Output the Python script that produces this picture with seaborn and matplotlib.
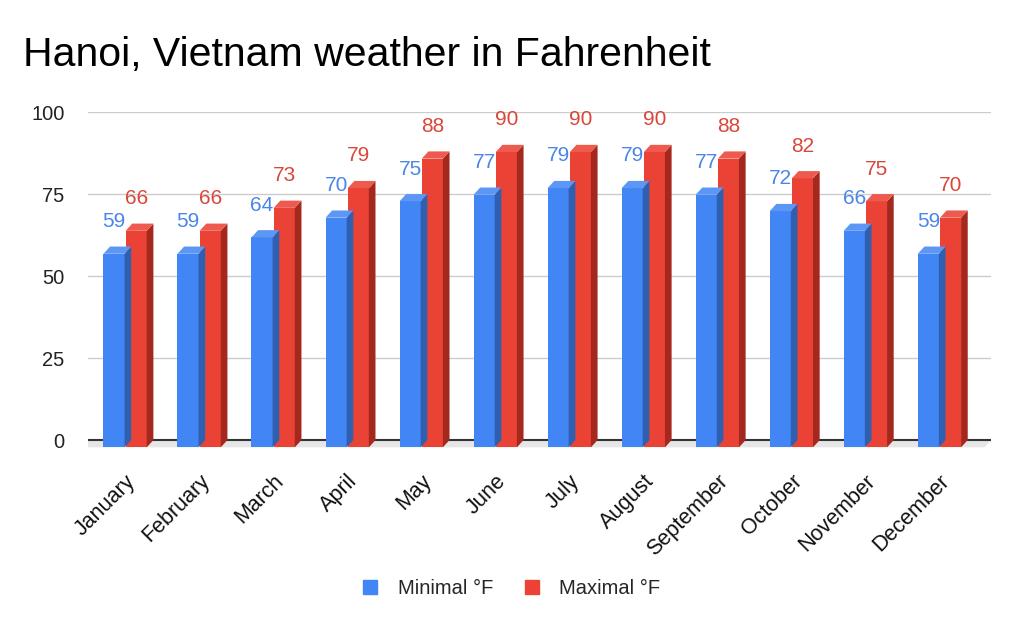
import matplotlib.pyplot as plt
import pandas as pd
import seaborn as sns
from matplotlib.patches import Polygon
from matplotlib.lines import Line2D

# Monthly temperatures in Hanoi (Fahrenheit)
months = ['January', 'February', 'March', 'April', 'May', 'June',
          'July', 'August', 'September', 'October', 'November', 'December']
min_f = [59, 59, 64, 70, 75, 77, 79, 79, 77, 72, 66, 59]
max_f = [66, 66, 73, 79, 88, 90, 90, 90, 88, 82, 75, 70]
series = ['Minimal °F', 'Maximal °F']
yticks = [0, 25, 50, 75, 100]

df = pd.DataFrame({'month': months * 2,
                   'value': min_f + max_f,
                   'series': [series[0]] * 12 + [series[1]] * 12})

blue, red = '#4285F4', '#EA4335'
side = {blue: '#2F5FB0', red: '#A5281E'}
top = {blue: '#5C97F6', red: '#EE5A4E'}
label_col = {blue: '#4A86E8', red: '#D9473A'}

sns.set_style('white')
plt.rcParams['font.family'] = ['Liberation Sans', 'DejaVu Sans']

fig = plt.figure(figsize=(10.24, 6.33), dpi=100)
ax = fig.add_axes([0.086, 0.284, 0.882, 0.539])

sns.barplot(data=df, x='month', y='value', hue='series', order=months,
            hue_order=series, palette=[blue, red], width=0.6, gap=0.05,
            saturation=1, ax=ax, legend=False, zorder=3)

ax.set_xlim(-0.5, 11.7)
ax.set_ylim(-4, 100)

# fake 3d depth (in data units)
dx, dy = 0.09, 2.2

# floor strip under the zero line
floor = Polygon([(-0.5 - dx, -dy), (-0.5, 0), (11.7, 0), (11.7 - dx, -dy)],
                closed=True, facecolor='#E6E6E6', edgecolor='none', zorder=1)
ax.add_patch(floor)

for bar in list(ax.patches):
    if bar is floor:
        continue
    x, w, h = bar.get_x(), bar.get_width(), bar.get_height()
    fc = '#%02X%02X%02X' % tuple(int(round(c * 255)) for c in bar.get_facecolor()[:3])
    bar.set_y(-dy)
    bar.set_edgecolor('none')
    ax.add_patch(Polygon([(x + w, -dy), (x + w + dx, 0), (x + w + dx, h), (x + w, h - dy)],
                         closed=True, facecolor=side.get(fc, fc), edgecolor='none', zorder=3))
    ax.add_patch(Polygon([(x, h - dy), (x + dx, h), (x + w + dx, h), (x + w, h - dy)],
                         closed=True, facecolor=top.get(fc, fc), edgecolor='none', zorder=3))
    ax.annotate(f'{h:.0f}', (x + w / 2, h), xytext=(0, 18), textcoords='offset points',
                ha='center', va='center', fontsize=15, color=label_col.get(fc, fc))

ax.set_yticks(yticks)
ax.grid(axis='y', color='#CCCCCC', lw=1, zorder=0)
ax.axhline(0, color='#333333', lw=1.5, zorder=2)
for s in ax.spines.values():
    s.set_visible(False)
ax.tick_params(axis='y', length=0, pad=17, labelsize=14.5, labelcolor='#222222')
ax.tick_params(axis='x', length=0, pad=12.5, labelsize=15.5, labelcolor='#111111')
plt.setp(ax.get_xticklabels(), rotation=45, ha='right', rotation_mode='anchor')
ax.set_xlabel('')
ax.set_ylabel('')

fig.text(0.022, 0.896, 'Hanoi, Vietnam weather in Fahrenheit', fontsize=29.5,
         color='#000000', ha='left', va='baseline')

handles = [Line2D([], [], marker='s', ls='none', markersize=10.5, color=c) for c in (blue, red)]
fig.legend(handles, series, loc='center', bbox_to_anchor=(0.5, 0.071), ncol=2,
           frameon=False, fontsize=14.5, handlelength=0.7, handletextpad=1.0,
           columnspacing=1.6)

fig.savefig('out.png', dpi=100)
